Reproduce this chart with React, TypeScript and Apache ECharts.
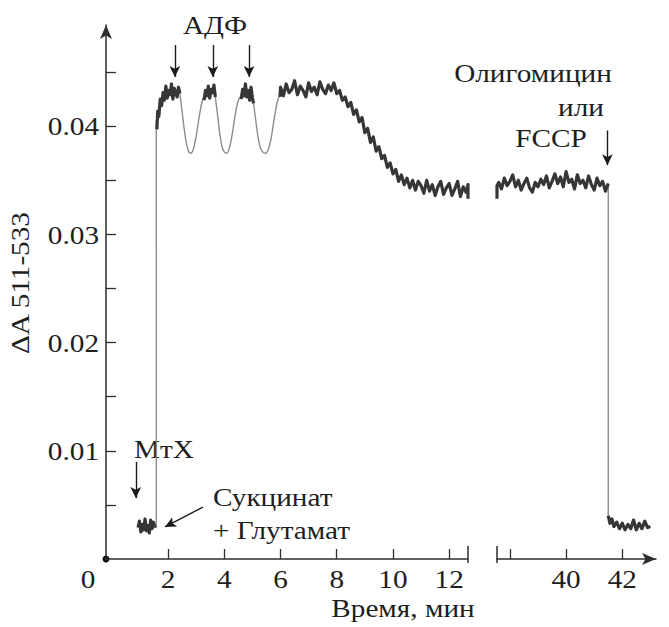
import React, { useEffect, useRef } from "react";
import * as echarts from "echarts";

// ---- axes ----
const yTickValues = [0.005, 0.01, 0.015, 0.02, 0.025, 0.03, 0.035, 0.04, 0.045];
const yLabelValues = [0.01, 0.02, 0.03, 0.04];
const xLeftTicks = [2, 4, 6, 8, 10, 12];
const xRightTicks = [38, 40, 42];
const xRightLabels = [40, 42];
const leftRange = [-0.21, 12.67];
const rightRange = [37.54, 43.2];
const yRange = [0, 0.04935];

// ---- trace, left part (min) ----
const baseT = [0.93, 0.98, 1.03, 1.08, 1.13, 1.18, 1.23, 1.28, 1.33, 1.38, 1.43, 1.48, 1.53];
const baseV = [0.0029, 0.0035, 0.0025, 0.0032, 0.0027, 0.0037, 0.0026, 0.0031, 0.0024, 0.0036, 0.0028, 0.0034, 0.0029];
const jump1T = [1.53, 1.58, 1.58, 1.6];
const jump1V = [0.0029, 0.0029, 0.0405, 0.0397];
const plat1T = [1.6, 1.63, 1.67, 1.72, 1.77, 1.82, 1.87, 1.92, 1.97, 2.02, 2.07, 2.12, 2.17, 2.22, 2.27, 2.32, 2.37, 2.42];
const plat1V = [0.0397, 0.0414, 0.0409, 0.0425, 0.0419, 0.0431, 0.0424, 0.0437, 0.0426, 0.0433, 0.0429, 0.0439, 0.0425, 0.0435, 0.0431, 0.0427, 0.0436, 0.043];
const dip1T = [2.42, 2.5, 2.58, 2.66, 2.74, 2.82, 2.9, 2.98, 3.06, 3.14, 3.22, 3.28];
const dip1V = [0.043, 0.0413, 0.0396, 0.0383, 0.0376, 0.0375, 0.0379, 0.0388, 0.0401, 0.0414, 0.0424, 0.0428];
const plat2T = [3.28, 3.33, 3.38, 3.43, 3.48, 3.53, 3.58, 3.63, 3.68];
const plat2V = [0.0424, 0.0433, 0.0428, 0.0437, 0.0426, 0.0434, 0.0431, 0.0438, 0.0427];
const dip2T = [3.68, 3.76, 3.84, 3.92, 4.0, 4.09, 4.17, 4.25, 4.33, 4.41, 4.5, 4.6];
const dip2V = [0.0427, 0.041, 0.0393, 0.0381, 0.0376, 0.0375, 0.0379, 0.0388, 0.0401, 0.0414, 0.0424, 0.0428];
const plat3T = [4.6, 4.65, 4.7, 4.75, 4.8, 4.85, 4.9, 4.95, 5.0, 5.04];
const plat3V = [0.0425, 0.0434, 0.0428, 0.0439, 0.0427, 0.0433, 0.0424, 0.0436, 0.0426, 0.0421];
const dip3T = [5.04, 5.12, 5.2, 5.28, 5.38, 5.48, 5.57, 5.66, 5.74, 5.82, 5.9, 5.98];
const dip3V = [0.0421, 0.0405, 0.039, 0.038, 0.0376, 0.0375, 0.0379, 0.0388, 0.0401, 0.0414, 0.0424, 0.0429];
const plat4T = [5.98, 6.0, 6.1, 6.2, 6.3, 6.4, 6.5, 6.6, 6.7, 6.8, 6.9, 7.0, 7.1, 7.2, 7.3, 7.4, 7.5, 7.6, 7.7, 7.8, 7.9, 8.0, 8.1, 8.2, 8.3, 8.4, 8.5, 8.6, 8.7, 8.8, 8.9, 9.0, 9.1, 9.2, 9.3, 9.4, 9.5, 9.6, 9.7, 9.8, 9.9, 10.0, 10.1, 10.2, 10.3, 10.4, 10.5, 10.6, 10.7, 10.8, 10.9, 11.0, 11.1, 11.2, 11.3, 11.4, 11.5, 11.6, 11.7, 11.8, 11.9, 12.0, 12.1, 12.2, 12.3, 12.4, 12.5, 12.6, 12.67, 12.67];
const plat4V = [0.0427,
  0.0436, 0.0428, 0.0439, 0.0431, 0.0434, 0.0442, 0.0429, 0.0437, 0.0433, 0.0427, 0.044, 0.0432, 0.0436, 0.0429, 0.0441, 0.0434, 0.043, 0.0438, 0.0433, 0.044,
  0.043, 0.0433, 0.0424, 0.0427, 0.0418, 0.0422, 0.0411, 0.0415, 0.0404, 0.0408,
  0.0394, 0.0398, 0.0385, 0.039, 0.0377, 0.0381, 0.037, 0.0373, 0.0362, 0.0366,
  0.0356, 0.036, 0.0349, 0.0355, 0.0346, 0.0352, 0.0343, 0.035, 0.0341, 0.0349,
  0.0345, 0.0338, 0.035, 0.034, 0.0346, 0.0336, 0.0344, 0.0349, 0.0337, 0.0343,
  0.0347, 0.0336, 0.0342, 0.0349, 0.0335, 0.0344, 0.0339,
  0.0346, 0.0333];

// ---- trace, right part (min) ----
const rightT = [37.54, 37.54, 37.6, 37.7, 37.8, 37.9, 38.0, 38.1, 38.2, 38.3, 38.4, 38.5, 38.6, 38.7, 38.8, 38.9, 39.0, 39.1, 39.2, 39.3, 39.4, 39.5, 39.6, 39.7, 39.8, 39.9, 40.0, 40.1, 40.2, 40.3, 40.4, 40.5, 40.6, 40.7, 40.8, 40.9, 41.0, 41.1, 41.2, 41.3, 41.4, 41.5];
const rightV = [0.0333, 0.0345,
  0.0348, 0.0342, 0.0352, 0.0345, 0.0349, 0.0355, 0.0344, 0.035, 0.0341, 0.0347,
  0.0352, 0.0343, 0.0339, 0.0348, 0.0344, 0.0351, 0.0346, 0.0354, 0.0343, 0.0349,
  0.0356, 0.0347, 0.0353, 0.0344, 0.0358, 0.0348, 0.0351, 0.0342, 0.0355, 0.0347,
  0.035, 0.0343, 0.0354, 0.0346, 0.0341, 0.0352, 0.0345, 0.0349, 0.034, 0.0347];
const dropT = [41.5, 41.5];
const dropV = [0.0347, 0.004];
const lowT = [41.5, 41.56, 41.63, 41.7, 41.8, 41.9, 42.0, 42.1, 42.2, 42.3, 42.4, 42.5, 42.6, 42.7, 42.8, 42.9, 43.0];
const lowV = [0.004, 0.0033, 0.0037, 0.003, 0.0034, 0.0028, 0.0033, 0.0027, 0.0032, 0.0028, 0.0036, 0.0027, 0.0033, 0.0028, 0.0035, 0.0029, 0.003];

// ---- annotation arrows [t1, v1, t2, v2] ----
const adpArrowT = [2.24, 3.59, 4.88];
const adpArrowV = [0.0475, 0.04455];
const mtxArrow = [0.85, 0.00897, 0.85, 0.00564];
const succArrow = [3.24, 0.0048, 1.89, 0.00296];
const fccpArrow = [41.47, 0.0396, 41.47, 0.0364];

const FONT = "Liberation Serif";
const FS = 25;
const SX = 1.17;
const TXT = "#1e1e1e";
const AXIS = "#2e2e2e";

type Seg = { grid: number; kind: "noisy" | "smooth"; t: number[]; v: number[] };
const segments: Seg[] = [
  { grid: 0, kind: "noisy", t: baseT, v: baseV },
  { grid: 0, kind: "smooth", t: jump1T, v: jump1V },
  { grid: 0, kind: "noisy", t: plat1T, v: plat1V },
  { grid: 0, kind: "smooth", t: dip1T, v: dip1V },
  { grid: 0, kind: "noisy", t: plat2T, v: plat2V },
  { grid: 0, kind: "smooth", t: dip2T, v: dip2V },
  { grid: 0, kind: "noisy", t: plat3T, v: plat3V },
  { grid: 0, kind: "smooth", t: dip3T, v: dip3V },
  { grid: 0, kind: "noisy", t: plat4T, v: plat4V },
  { grid: 1, kind: "noisy", t: rightT, v: rightV },
  { grid: 1, kind: "smooth", t: dropT, v: dropV },
  { grid: 1, kind: "noisy", t: lowT, v: lowV },
];

function arrowLine(a: number[]) {
  return [{ coord: [a[0], a[1]] }, { coord: [a[2], a[3]] }];
}

function txt(text: string, x: number, y: number, align = "center", rotation = 0) {
  return {
    type: "text",
    x,
    y,
    rotation,
    scaleX: SX,
    silent: true,
    style: {
      text,
      fontFamily: FONT,
      fontSize: FS,
      fill: TXT,
      align,
      verticalAlign: "middle",
    },
  };
}

export default function App() {
  const ref = useRef<HTMLDivElement>(null);
  useEffect(() => {
    if (!ref.current) return;
    const chart = echarts.init(ref.current, null, { renderer: "svg" });

    const markLineBase = {
      silent: true,
      symbol: ["none", "arrow"],
      symbolSize: [8, 11],
      label: { show: false },
      lineStyle: { color: "#1a1a1a", width: 1.4, type: "solid" },
      emphasis: { disabled: true },
      animation: false,
    };

    const series: any[] = segments.map((s) => ({
      type: "line",
      xAxisIndex: s.grid,
      yAxisIndex: s.grid,
      data: s.t.map((t, k) => [t, s.v[k]]),
      symbol: "none",
      silent: true,
      smooth: s.kind === "smooth" && s.t.length > 4 ? 0.3 : false,
      lineStyle:
        s.kind === "noisy"
          ? { color: "#363636", width: 3.2, join: "round" }
          : { color: "#8c8c8c", width: 1.4 },
      z: s.kind === "noisy" ? 3 : 2,
    }));
    series[0].markLine = {
      ...markLineBase,
      data: [
        ...adpArrowT.map((t) => arrowLine([t, adpArrowV[0], t, adpArrowV[1]])),
        arrowLine(mtxArrow),
        arrowLine(succArrow),
      ],
    };
    series[9].markLine = { ...markLineBase, data: [arrowLine(fccpArrow)] };

    const axisLine = { lineStyle: { color: AXIS, width: 1.5 } };

    chart.setOption({
      animation: false,
      backgroundColor: "#ffffff",
      grid: [
        { left: 106, top: 25, bottom: 68, width: 362 },
        { left: 497, top: 25, bottom: 68, right: 13 },
      ],
      xAxis: [
        {
          type: "value",
          gridIndex: 0,
          min: leftRange[0],
          max: leftRange[1],
          splitLine: { show: false },
          axisLine: { ...axisLine, onZero: false },
          axisTick: { inside: true, length: 10, customValues: xLeftTicks, lineStyle: { color: AXIS, width: 1.3 } },
          axisLabel: { show: false },
        },
        {
          type: "value",
          gridIndex: 1,
          min: rightRange[0],
          max: rightRange[1],
          splitLine: { show: false },
          axisLine: { ...axisLine, onZero: false, symbol: ["none", "arrow"], symbolSize: [9, 14] },
          axisTick: { inside: true, length: 10, customValues: xRightTicks, lineStyle: { color: AXIS, width: 1.3 } },
          axisLabel: { show: false },
        },
      ],
      yAxis: [
        {
          type: "value",
          gridIndex: 0,
          min: yRange[0],
          max: yRange[1],
          splitLine: { show: false },
          axisLine: { ...axisLine, onZero: false, symbol: ["none", "arrow"], symbolSize: [9, 14] },
          axisTick: { inside: true, length: 10, customValues: yTickValues, lineStyle: { color: AXIS, width: 1.3 } },
          axisLabel: { show: false },
        },
        {
          type: "value",
          gridIndex: 1,
          min: yRange[0],
          max: yRange[1],
          show: false,
          splitLine: { show: false },
        },
      ],
      series,
    });

    const px = (g: number, p: number[]) => chart.convertToPixel({ gridIndex: g } as any, p) as number[];
    const graphics: any[] = [];
    const origin = px(0, [leftRange[0], 0]);
    yLabelValues.forEach((v) => {
      const p = px(0, [leftRange[0], v]);
      graphics.push(txt(String(v), p[0] - 7, p[1] + 1, "right"));
    });
    xLeftTicks.forEach((t) => {
      const p = px(0, [t, 0]);
      graphics.push(txt(String(t), p[0], p[1] + 21));
    });
    xRightLabels.forEach((t) => {
      const p = px(1, [t, 0]);
      graphics.push(txt(String(t), p[0], p[1] + 21));
    });
    graphics.push(txt("0", origin[0] - 18, origin[1] + 21));
    const e1 = px(0, [leftRange[1], 0]);
    const e2 = px(1, [rightRange[0], 0]);
    [e1, e2].forEach((e) =>
      graphics.push({
        type: "line",
        silent: true,
        shape: { x1: e[0], y1: e[1] - 13, x2: e[0], y2: e[1] + 4 },
        style: { stroke: AXIS, lineWidth: 1.5 },
      })
    );
    graphics.push({
      type: "circle",
      silent: true,
      shape: { cx: origin[0], cy: origin[1], r: 3.5 },
      style: { fill: "#111" },
    });
    graphics.push(txt("АДФ", 215, 26));
    graphics.push(txt("Олигомицин", 533, 74));
    graphics.push(txt("или", 581, 108));
    graphics.push(txt("FCCP", 551, 139));
    graphics.push(txt("МтХ", 164, 450));
    graphics.push(txt("Сукцинат", 213, 498, "left"));
    graphics.push(txt("+ Глутамат", 213, 531, "left"));
    graphics.push(txt("Время, мин", 403, 609));
    graphics.push(txt("ΔA 511-533", 21, 283, "center", Math.PI / 2));
    chart.setOption({ graphic: graphics });

    return () => chart.dispose();
  }, []);
  return (
    <div
      ref={ref}
      style={{ position: "fixed", left: 0, top: 0, width: 669, height: 627, background: "#fff" }}
    />
  );
}
